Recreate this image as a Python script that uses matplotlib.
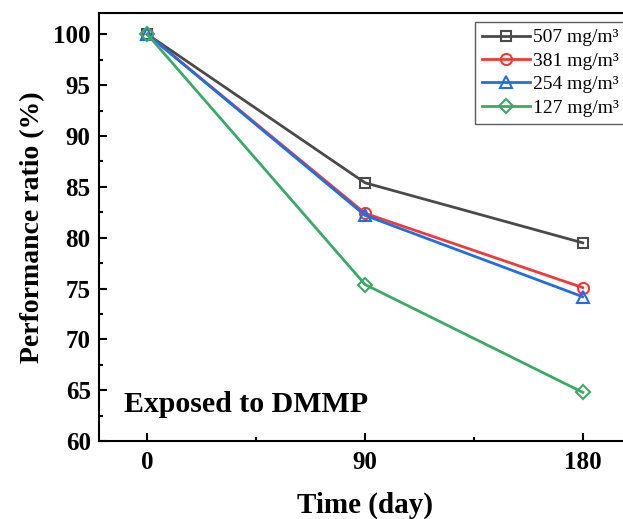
import matplotlib
matplotlib.use('Agg')
import matplotlib.pyplot as plt
from matplotlib.ticker import MultipleLocator

plt.rcParams['font.family'] = ['Liberation Serif', 'DejaVu Serif']

days = [0, 90, 180]
labels = ['507 mg/m³', '381 mg/m³', '254 mg/m³', '127 mg/m³']
r507 = [100, 85.4, 79.5]
r381 = [100, 82.4, 75.1]
r254 = [100, 82.2, 74.2]
r127 = [100, 75.4, 64.8]

series = [r507, r381, r254, r127]
colors = ['#4a4a4a', '#f03a3a', '#1f6fe0', '#3aaa66']
markers = ['s', 'o', '^', 'D']
msizes = [7, 8, 8, 7]

fig = plt.figure(figsize=(6.23, 5.19), dpi=100)
ax = fig.add_axes([0.159, 0.150, 0.854, 0.825])

for vals, lab, c, m, ms in zip(series, labels, colors, markers, msizes):
    ax.plot(days, vals, color=c, lw=2, marker=m, ms=ms, mfc='none',
            mec=c, mew=1.5, label=lab)

ax.set_xlim(-20, 200)
ax.set_ylim(60, 102.1)
ax.xaxis.set_major_locator(MultipleLocator(90))
ax.xaxis.set_minor_locator(MultipleLocator(45))
ax.yaxis.set_major_locator(MultipleLocator(5))
ax.yaxis.set_minor_locator(MultipleLocator(2.5))
ax.tick_params(which='both', direction='in', labelsize=18, width=1.5)
ax.tick_params(which='major', length=6)
ax.tick_params(which='minor', length=3)
ax.tick_params(axis='x', pad=7)
ax.tick_params(axis='y', pad=6)
for lbl in ax.get_xticklabels() + ax.get_yticklabels():
    lbl.set_fontweight('bold')
for sp in ax.spines.values():
    sp.set_linewidth(1.5)

ax.set_xlabel('Time (day)', fontsize=21, fontweight='bold', labelpad=13)
ax.set_ylabel('Performance ratio (%)', fontsize=20, fontweight='bold', labelpad=6)

ax.text(-9.5, 62.85, 'Exposed to DMMP', fontsize=21.5, fontweight='bold')

leg = ax.legend(loc='upper right', bbox_to_anchor=(0.99, 0.979), fontsize=14,
                frameon=True, fancybox=False, edgecolor='#333333',
                handlelength=2.5, handletextpad=0.15, borderpad=0.35,
                labelspacing=0.3, borderaxespad=0)
leg.get_frame().set_linewidth(1.0)

fig.savefig('out.png', dpi=100)
